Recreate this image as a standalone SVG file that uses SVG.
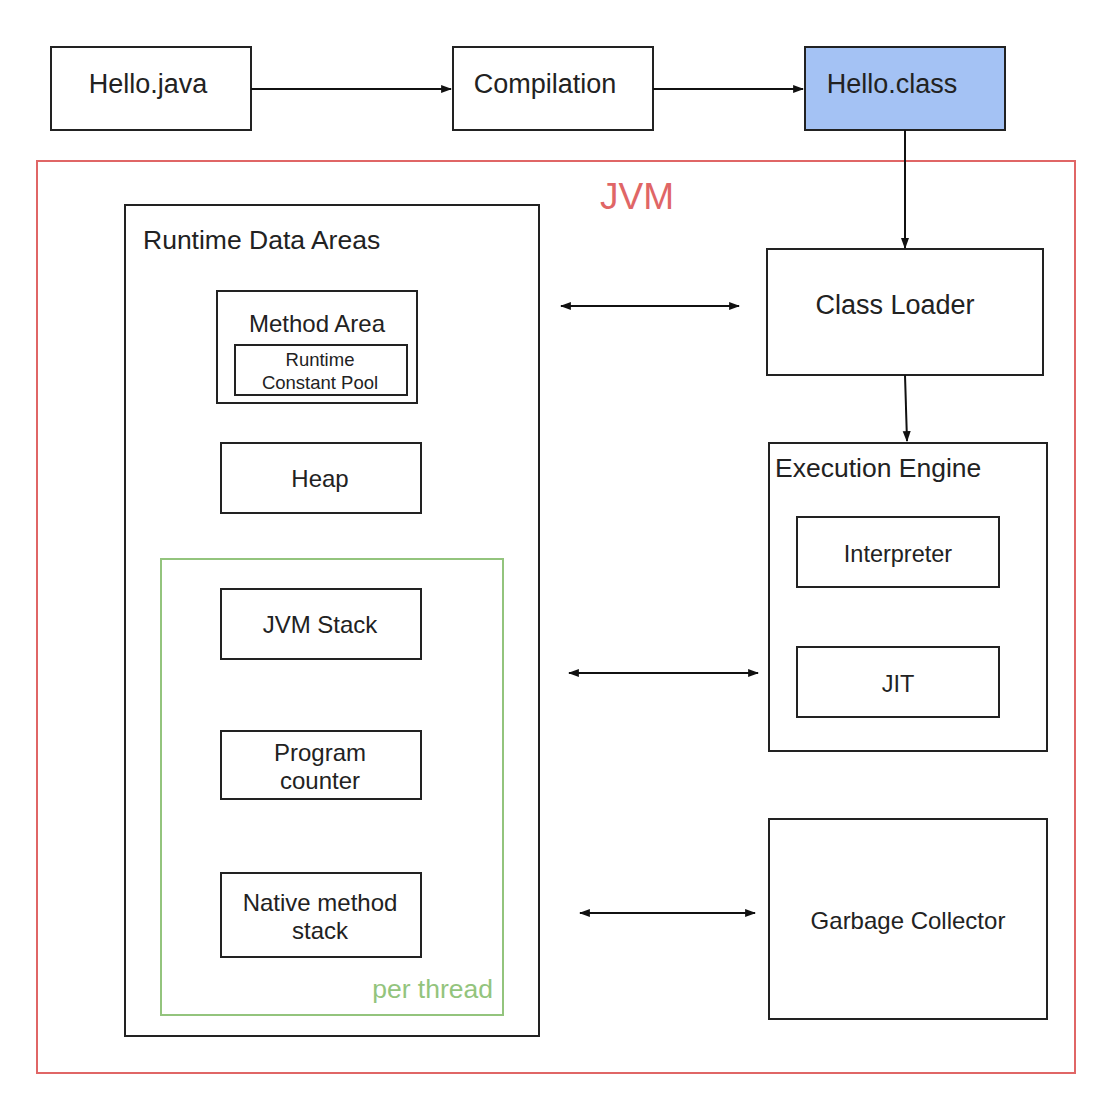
<svg xmlns="http://www.w3.org/2000/svg" width="1120" height="1114" viewBox="0 0 1120 1114">
<defs>
<marker id="ah" viewBox="0 0 10 10" refX="9" refY="5" markerWidth="11" markerHeight="10" orient="auto-start-reverse" markerUnits="userSpaceOnUse" preserveAspectRatio="none">
<path d="M0,1 L10,5 L0,9 z" fill="#111"/>
</marker>
<style>
.box{fill:#fff;stroke:#222;stroke-width:2}
.t{font-family:"Liberation Sans",Arial,sans-serif;fill:#222}
.c{stroke:#111;stroke-width:2;fill:none}
</style>
</defs>
<rect width="1120" height="1114" fill="#fff"/>
<g id="jvm">
<rect x="37" y="161" width="1038" height="912" fill="none" stroke="#e06666" stroke-width="2"/>
<text x="637" y="209" font-size="37" text-anchor="middle" class="t" style="fill:#e06666">JVM</text>
</g>
<g id="hello-java">
<rect class="box" x="51" y="47" width="200" height="83"/>
<text class="t" x="148" y="93" font-size="27" text-anchor="middle">Hello.java</text>
</g>
<g id="compilation">
<rect class="box" x="453" y="47" width="200" height="83"/>
<text class="t" x="545" y="93" font-size="27" text-anchor="middle">Compilation</text>
</g>
<g id="hello-class">
<rect class="box" x="805" y="47" width="200" height="83" style="fill:#a4c2f4"/>
<text class="t" x="892" y="93" font-size="27" text-anchor="middle">Hello.class</text>
</g>
<g id="runtime-data-areas">
<rect class="box" x="125" y="205" width="414" height="831"/>
<text class="t" x="143" y="249" font-size="26.5">Runtime Data Areas</text>
</g>
<g id="method-area">
<rect class="box" x="217" y="291" width="200" height="112"/>
<text class="t" x="317" y="332" font-size="24" text-anchor="middle">Method Area</text>
</g>
<g id="runtime-constant-pool">
<rect class="box" x="235" y="345" width="172" height="50"/>
<text class="t" x="320" y="366" font-size="18.5" text-anchor="middle">Runtime</text>
<text class="t" x="320" y="389" font-size="18.5" text-anchor="middle">Constant Pool</text>
</g>
<g id="heap">
<rect class="box" x="221" y="443" width="200" height="70"/>
<text class="t" x="320" y="487" font-size="24" text-anchor="middle">Heap</text>
</g>
<g id="per-thread">
<rect x="161" y="559" width="342" height="456" fill="none" stroke="#93c47d" stroke-width="2"/>
<text class="t" x="493" y="998" font-size="26.5" text-anchor="end" style="fill:#93c47d">per thread</text>
</g>
<g id="jvm-stack">
<rect class="box" x="221" y="589" width="200" height="70"/>
<text class="t" x="320" y="633" font-size="24" text-anchor="middle">JVM Stack</text>
</g>
<g id="program-counter">
<rect class="box" x="221" y="731" width="200" height="68"/>
<text class="t" x="320" y="761" font-size="24" text-anchor="middle">Program</text>
<text class="t" x="320" y="789" font-size="24" text-anchor="middle">counter</text>
</g>
<g id="native-method-stack">
<rect class="box" x="221" y="873" width="200" height="84"/>
<text class="t" x="320" y="911" font-size="24" text-anchor="middle">Native method</text>
<text class="t" x="320" y="939" font-size="24" text-anchor="middle">stack</text>
</g>
<g id="class-loader">
<rect class="box" x="767" y="249" width="276" height="126"/>
<text class="t" x="895" y="314" font-size="27" text-anchor="middle">Class Loader</text>
</g>
<g id="execution-engine">
<rect class="box" x="769" y="443" width="278" height="308"/>
<text class="t" x="775" y="477" font-size="26.5">Execution Engine</text>
</g>
<g id="interpreter">
<rect class="box" x="797" y="517" width="202" height="70"/>
<text class="t" x="898" y="562" font-size="23.5" text-anchor="middle">Interpreter</text>
</g>
<g id="jit">
<rect class="box" x="797" y="647" width="202" height="70"/>
<text class="t" x="898" y="692" font-size="23.5" text-anchor="middle">JIT</text>
</g>
<g id="garbage-collector">
<rect class="box" x="769" y="819" width="278" height="200"/>
<text class="t" x="908" y="929" font-size="24" text-anchor="middle">Garbage Collector</text>
</g>
<g id="connectors">
<line class="c" x1="251" y1="89" x2="451" y2="89" marker-end="url(#ah)"/>
<line class="c" x1="653" y1="89" x2="803" y2="89" marker-end="url(#ah)"/>
<line class="c" x1="905" y1="130" x2="905" y2="248" marker-end="url(#ah)"/>
<line class="c" x1="905" y1="375" x2="907" y2="441" marker-end="url(#ah)"/>
<line class="c" x1="561" y1="306" x2="739" y2="306" marker-start="url(#ah)" marker-end="url(#ah)"/>
<line class="c" x1="569" y1="673" x2="758" y2="673" marker-start="url(#ah)" marker-end="url(#ah)"/>
<line class="c" x1="580" y1="913" x2="755" y2="913" marker-start="url(#ah)" marker-end="url(#ah)"/>
</g>
</svg>
